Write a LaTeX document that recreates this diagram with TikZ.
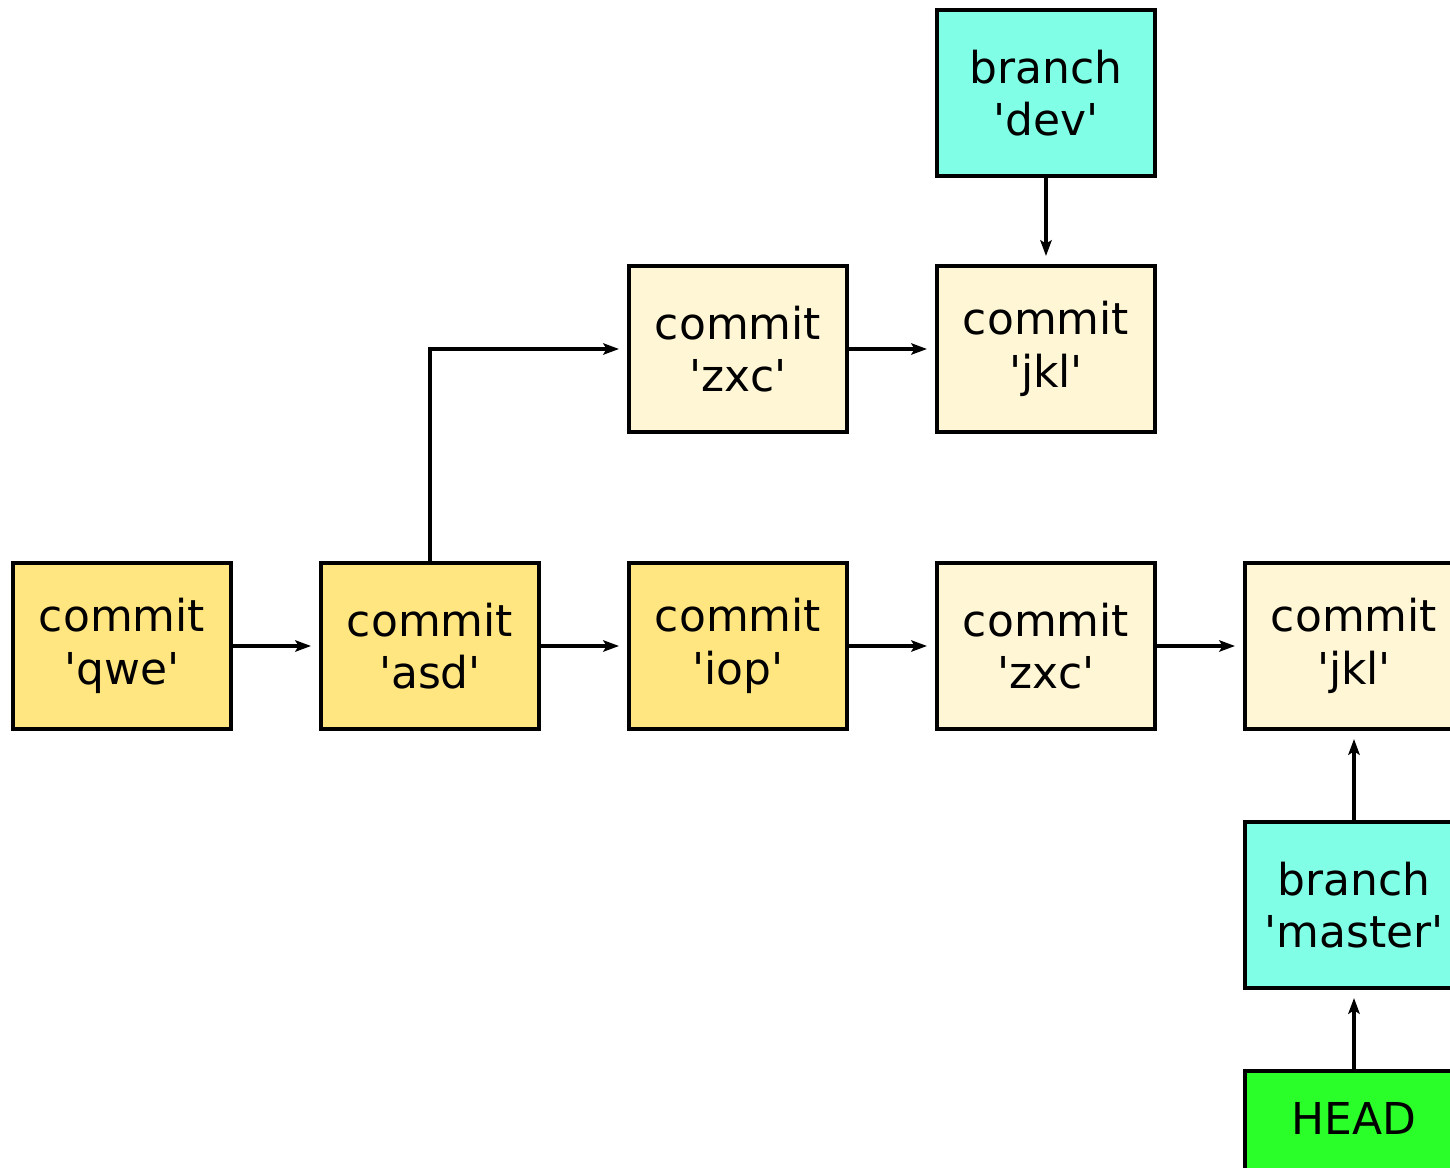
\documentclass[tikz,border=0pt]{standalone}
\usepackage{fontspec}
\setmainfont{DejaVu Sans}[Ligatures=TeXOff]
\usetikzlibrary{positioning, arrows.meta}

\definecolor{oldfill}{HTML}{FFE680}
\definecolor{newfill}{HTML}{FFF6D5}
\definecolor{reffill}{HTML}{80FFE6}
\definecolor{headfill}{HTML}{2AFF2A}

\begin{document}
\begin{tikzpicture}[
        node distance=2.54cm and 1.72cm,
        box/.style={draw, line width=0.08cm, rectangle, minimum width=4.36cm, minimum height=3.32cm, align=center, inner sep=0pt, font=\fontsize{25}{30}\selectfont},
        oldcommit/.style={box, fill=oldfill},
        newcommit/.style={box, fill=newfill},
        branch/.style={box, fill=reffill},
        head/.style={box, fill=headfill, text height=0.64cm, text depth=1.44cm},
        arrow/.style={-{Stealth[length=9pt, width=6.5pt, inset=2pt]}, line width=2pt, shorten >=0.16cm}
    ]
    \useasboundingbox (-2.44,12.92) rectangle (26.56,-10.42);
    \clip (-2.44,12.92) rectangle (26.56,-10.42);

    % main line
    \node[oldcommit] (qwe) at (0,0) {commit\\'qwe'};
    \node[oldcommit, right=of qwe] (asd) {commit\\'asd'};
    \node[oldcommit, right=of asd] (iop) {commit\\'iop'};
    \node[newcommit, right=of iop] (zxcMain) {commit\\'zxc'};
    \node[newcommit, right=of zxcMain] (jklMain) {commit\\'jkl'};

    % dev line
    \node[newcommit, above=of iop] (zxcDev) {commit\\'zxc'};
    \node[newcommit, right=of zxcDev] (jklDev) {commit\\'jkl'};
    \node[branch, above=1.72cm of jklDev] (dev) {branch\\'dev'};

    % refs
    \node[branch, below=1.78cm of jklMain] (master) {branch\\'master'};
    \node[head, below=1.58cm of master] (HEAD) {HEAD};

    \draw[arrow] (qwe) -- (asd);
    \draw[arrow] (asd) -- (iop);
    \draw[arrow] (iop) -- (zxcMain);
    \draw[arrow] (zxcMain) -- (jklMain);
    \draw[arrow] (asd.north) |- (zxcDev.west);
    \draw[arrow] (zxcDev) -- (jklDev);
    \draw[arrow] (dev) -- (jklDev);
    \draw[arrow] (master) -- (jklMain);
    \draw[arrow] (HEAD) -- (master);

    \end{tikzpicture}
\end{document}
